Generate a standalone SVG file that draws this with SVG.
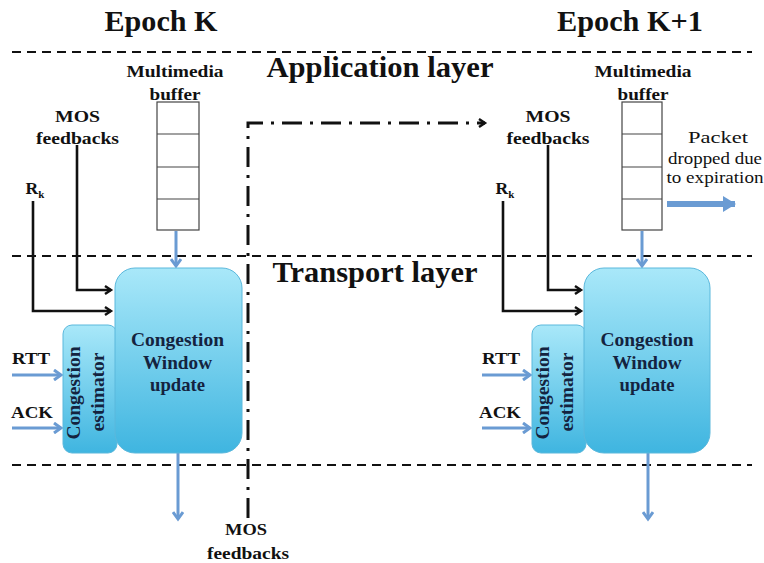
<svg xmlns="http://www.w3.org/2000/svg" width="764" height="563" viewBox="0 0 764 563" font-family="'Liberation Serif', Tinos, 'DejaVu Serif', serif">
<style>
text{font-family:"Liberation Serif",Tinos,"DejaVu Serif",serif;font-weight:bold;fill:#111;text-anchor:middle}
.big{font-size:29px}
.lab{font-size:17.5px}
.box{font-size:19px;fill:#14233f}
.reg{font-weight:normal;font-size:16px}
.dash{stroke:#111;stroke-width:2.2;stroke-dasharray:9 6;fill:none}
.dd{stroke:#111;stroke-width:3;stroke-dasharray:20 8 3 8;fill:none}
.blk{stroke:#111;stroke-width:2.6;fill:none}
.blu{stroke:#6a9bd3;stroke-width:3;fill:none}
.buf{fill:#fff;stroke:#444;stroke-width:1.2}
.cw{fill:url(#g);stroke:#5bb8dc;stroke-width:1}
</style>
<defs>
<linearGradient id="g" x1="0" y1="0" x2="0" y2="1">
<stop offset="0" stop-color="#a9e8f9"/>
<stop offset="1" stop-color="#3fb5e0"/>
</linearGradient>
<marker id="ba" markerWidth="10" markerHeight="10" refX="7" refY="5" orient="auto" markerUnits="userSpaceOnUse">
<path d="M1,1 L7,5 L1,9" fill="none" stroke="#111" stroke-width="2.4"/>
</marker>
<marker id="bl" markerWidth="12" markerHeight="12" refX="9" refY="6" orient="auto" markerUnits="userSpaceOnUse">
<path d="M2,1 L9,6 L2,11" fill="none" stroke="#6a9bd3" stroke-width="3"/>
</marker>
<marker id="bt" markerWidth="14" markerHeight="16" refX="12" refY="8" orient="auto" markerUnits="userSpaceOnUse">
<path d="M0,0 L13,8 L0,16 Z" fill="#6a9bd3"/>
</marker>
</defs>

<g id="layers">
<line class="dash" x1="12" y1="52" x2="752" y2="52"/>
<line class="dash" x1="12" y1="256" x2="752" y2="256"/>
<line class="dash" x1="12" y1="465" x2="752" y2="465"/>
<text class="big" x="161" y="31" textLength="113" lengthAdjust="spacingAndGlyphs">Epoch K</text>
<text class="big" x="630" y="31" textLength="146" lengthAdjust="spacingAndGlyphs">Epoch K+1</text>
<text class="big" x="380" y="77" textLength="227" lengthAdjust="spacingAndGlyphs">Application layer</text>
<text class="big" x="375" y="282" textLength="205" lengthAdjust="spacingAndGlyphs">Transport layer</text>
</g>

<g id="connectors">
<path class="dd" d="M248,518 L248,123 L485,123" marker-end="url(#ba)"/>
<path class="blk" d="M77,145 L77,290 L111,290" marker-end="url(#ba)"/>
<path class="blk" d="M33,201 L33,311 L111,311" marker-end="url(#ba)"/>
<path class="blk" d="M548,145 L548,290 L581,290" marker-end="url(#ba)"/>
<path class="blk" d="M503,201 L503,311 L581,311" marker-end="url(#ba)"/>
<line class="blu" x1="176" y1="231" x2="176" y2="266" marker-end="url(#bl)"/>
<line class="blu" x1="642" y1="231" x2="642" y2="266" marker-end="url(#bl)"/>
<line class="blu" x1="12" y1="375" x2="61" y2="375" marker-end="url(#bl)"/>
<line class="blu" x1="12" y1="428" x2="61" y2="428" marker-end="url(#bl)"/>
<line class="blu" x1="482" y1="375" x2="530" y2="375" marker-end="url(#bl)"/>
<line class="blu" x1="482" y1="428" x2="530" y2="428" marker-end="url(#bl)"/>
<line class="blu" x1="178" y1="453" x2="178" y2="519" marker-end="url(#bl)"/>
<line class="blu" x1="648" y1="453" x2="648" y2="519" marker-end="url(#bl)"/>
<line x1="667" y1="204" x2="735" y2="204" stroke="#6a9bd3" stroke-width="6" marker-end="url(#bt)"/>
</g>

<g id="labels-k">
<text class="lab" x="175" y="77" textLength="97" lengthAdjust="spacingAndGlyphs">Multimedia</text>
<text class="lab" x="175" y="100" textLength="51" lengthAdjust="spacingAndGlyphs">buffer</text>
<text class="lab" x="77.5" y="122" textLength="45" lengthAdjust="spacingAndGlyphs">MOS</text>
<text class="lab" x="77.5" y="144" textLength="83" lengthAdjust="spacingAndGlyphs">feedbacks</text>
<text class="lab" x="35" y="194">R<tspan font-size="11" dy="4">k</tspan></text>
<text class="lab" x="31" y="364" textLength="38" lengthAdjust="spacingAndGlyphs">RTT</text>
<text class="lab" x="32" y="418" textLength="42" lengthAdjust="spacingAndGlyphs">ACK</text>
<text class="lab" x="246" y="535" textLength="42" lengthAdjust="spacingAndGlyphs">MOS</text>
<text class="lab" x="248" y="559" textLength="82" lengthAdjust="spacingAndGlyphs">feedbacks</text>
</g>

<g id="labels-k1">
<text class="lab" x="643" y="77" textLength="97" lengthAdjust="spacingAndGlyphs">Multimedia</text>
<text class="lab" x="643" y="100" textLength="51" lengthAdjust="spacingAndGlyphs">buffer</text>
<text class="lab" x="548" y="122" textLength="45" lengthAdjust="spacingAndGlyphs">MOS</text>
<text class="lab" x="548" y="144" textLength="83" lengthAdjust="spacingAndGlyphs">feedbacks</text>
<text class="lab" x="505" y="194">R<tspan font-size="11" dy="4">k</tspan></text>
<text class="lab" x="501" y="364" textLength="38" lengthAdjust="spacingAndGlyphs">RTT</text>
<text class="lab" x="500" y="418" textLength="42" lengthAdjust="spacingAndGlyphs">ACK</text>
<text class="reg" x="718" y="143" textLength="60" lengthAdjust="spacingAndGlyphs">Packet</text>
<text class="reg" x="715" y="164" textLength="94" lengthAdjust="spacingAndGlyphs">dropped due</text>
<text class="reg" x="715" y="183" textLength="97" lengthAdjust="spacingAndGlyphs">to expiration</text>
</g>

<g id="buffer-k">
<rect class="buf" x="157" y="102" width="42" height="128"/>
<line class="buf" x1="157" y1="134" x2="199" y2="134"/>
<line class="buf" x1="157" y1="167" x2="199" y2="167"/>
<line class="buf" x1="157" y1="199" x2="199" y2="199"/>
</g>
<g id="buffer-k1">
<rect class="buf" x="622" y="102" width="40" height="128"/>
<line class="buf" x1="622" y1="134" x2="662" y2="134"/>
<line class="buf" x1="622" y1="167" x2="662" y2="167"/>
<line class="buf" x1="622" y1="199" x2="662" y2="199"/>
</g>

<g id="estimator-k">
<rect class="cw" x="63" y="325" width="54" height="128" rx="9"/>
<text class="box" transform="translate(80,393) rotate(-90)" textLength="93" lengthAdjust="spacingAndGlyphs">Congestion</text>
<text class="box" transform="translate(104,392) rotate(-90)" textLength="79" lengthAdjust="spacingAndGlyphs">estimator</text>
</g>
<g id="cwu-k">
<rect class="cw" x="115" y="268" width="127" height="185" rx="20"/>
<text class="box" x="177.5" y="346" textLength="93" lengthAdjust="spacingAndGlyphs">Congestion</text>
<text class="box" x="177.5" y="369" textLength="69" lengthAdjust="spacingAndGlyphs">Window</text>
<text class="box" x="177.5" y="391" textLength="55" lengthAdjust="spacingAndGlyphs">update</text>
</g>

<g id="estimator-k1">
<rect class="cw" x="532" y="325" width="54" height="128" rx="9"/>
<text class="box" transform="translate(549,393) rotate(-90)" textLength="93" lengthAdjust="spacingAndGlyphs">Congestion</text>
<text class="box" transform="translate(573,392) rotate(-90)" textLength="79" lengthAdjust="spacingAndGlyphs">estimator</text>
</g>
<g id="cwu-k1">
<rect class="cw" x="584" y="268" width="126" height="185" rx="20"/>
<text class="box" x="647" y="346" textLength="93" lengthAdjust="spacingAndGlyphs">Congestion</text>
<text class="box" x="647" y="369" textLength="69" lengthAdjust="spacingAndGlyphs">Window</text>
<text class="box" x="647" y="391" textLength="55" lengthAdjust="spacingAndGlyphs">update</text>
</g>
</svg>
